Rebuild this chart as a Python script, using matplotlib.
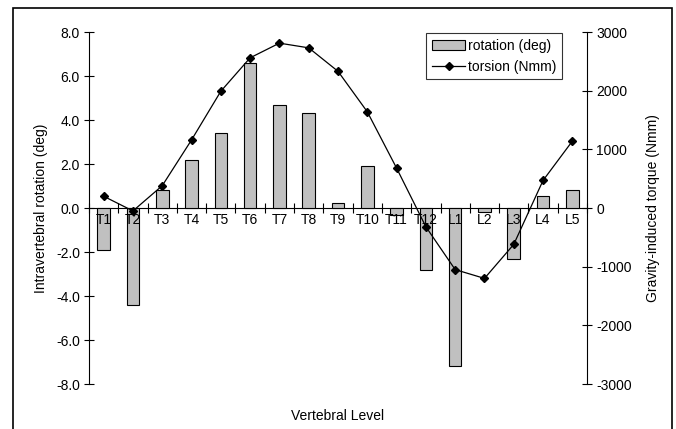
import matplotlib
matplotlib.use("Agg")
import matplotlib.pyplot as plt
from matplotlib.patches import Rectangle
import numpy as np

plt.rcParams['font.family'] = ['Liberation Sans', 'DejaVu Sans']

levels = ["T1", "T2", "T3", "T4", "T5", "T6", "T7", "T8", "T9", "T10",
          "T11", "T12", "L1", "L2", "L3", "L4", "L5"]
rotation = [-1.9, -4.4, 0.8, 2.2, 3.4, 6.6, 4.7, 4.3, 0.25, 1.9,
            -0.3, -2.8, -7.2, -0.2, -2.3, 0.55, 0.8]
torsion = [200, -50, 380, 1160, 1990, 2560, 2810, 2730, 2330, 1640,
           680, -320, -1050, -1200, -620, 470, 1140]

fs = 10
fig = plt.figure(figsize=(6.76, 4.29), dpi=100)
ax1 = fig.add_axes([89 / 676, 1 - 384 / 429, (587 - 89) / 676, (384 - 32) / 429])
ax2 = ax1.twinx()

x = np.arange(len(levels))
bars = ax1.bar(x, rotation, width=0.43, color="#c0c0c0", edgecolor="black",
               linewidth=0.8, zorder=3, label="rotation (deg)")
ax1.set_xlim(-0.5, len(levels) - 0.5)
ax1.set_ylim(-8, 8)
ax1.set_yticks(np.arange(-8, 8.1, 2))
ax1.set_yticklabels(["%.1f" % v for v in np.arange(-8, 8.1, 2)], fontsize=fs)

line, = ax2.plot(x, torsion, color="black", lw=0.9, marker="D", ms=4.5,
                 zorder=5, label="torsion (Nmm)")
ax2.set_ylim(-3000, 3000)
ax2.set_yticks(np.arange(-3000, 3001, 1000))
ax2.set_yticklabels([str(v) for v in range(-3000, 3001, 1000)], fontsize=fs)

# spines like the Excel chart
for a in (ax1, ax2):
    a.spines['top'].set_visible(False)
ax1.spines['bottom'].set_position(('data', 0))
ax1.spines['bottom'].set_zorder(2)
ax2.spines['bottom'].set_visible(False)
ax1.spines['right'].set_visible(False)
ax2.spines['left'].set_visible(False)

ax1.set_xticks(np.arange(-0.5, len(levels), 1.0))
ax1.set_xticklabels([])
ax1.tick_params(axis='x', direction='inout', length=7, width=0.8)
ax1.tick_params(axis='y', direction='inout', length=7, width=0.8, pad=3)
ax2.tick_params(axis='y', direction='inout', length=7, width=0.8, pad=3)
for i, lab in enumerate(levels):
    ax1.text(i, -0.55, lab, ha='center', va='center', fontsize=fs, zorder=6)

ax1.set_xlabel("Vertebral Level", fontsize=fs)
ax1.xaxis.set_label_coords(0.5, -0.07)
ax1.set_ylabel("Intravertebral rotation (deg)", fontsize=fs, labelpad=6)
ax2.set_ylabel("Gravity-induced torque (Nmm)", fontsize=fs, rotation=90, labelpad=10)

ax2.set_zorder(ax1.get_zorder() + 1)
ax2.patch.set_visible(False)

leg = ax2.legend([bars, line], ["rotation (deg)", "torsion (Nmm)"],
                 loc='upper right', bbox_to_anchor=((562 - 89) / 498, (384 - 33) / 352),
                 borderaxespad=0, fontsize=fs, frameon=True, fancybox=False,
                 edgecolor='black', handlelength=2.4, handletextpad=0.2,
                 borderpad=0.4, labelspacing=0.5)
leg.get_frame().set_linewidth(0.8)

# outer chart frame
fig.patches.append(Rectangle((13 / 676, -0.05), (672 - 13) / 676, 1 - 8 / 429 + 0.05,
                             transform=fig.transFigure, fill=False,
                             edgecolor='black', linewidth=1.2))

fig.savefig("out.png", dpi=100)
